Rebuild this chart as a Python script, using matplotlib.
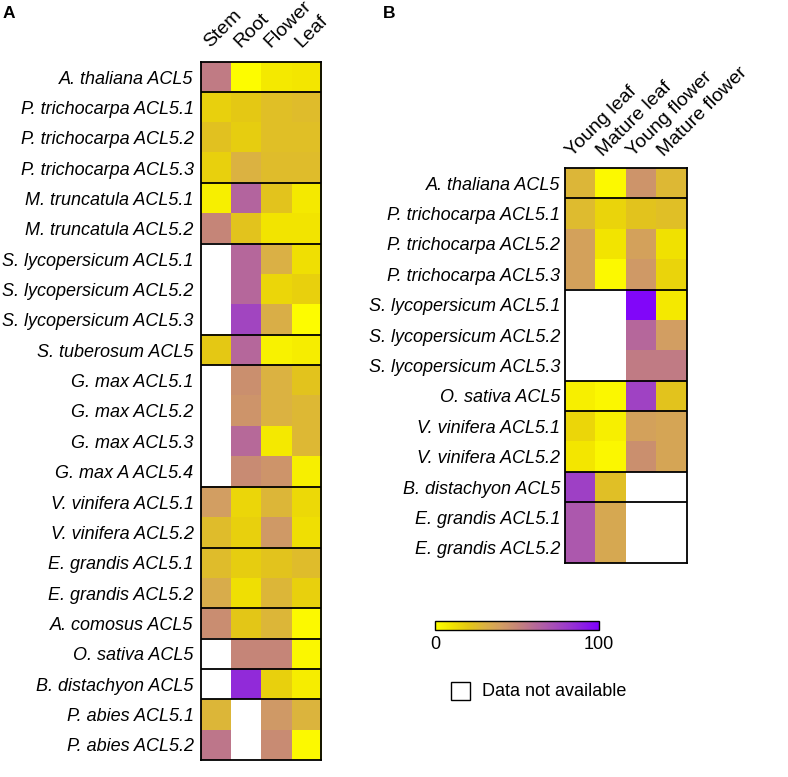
import numpy as np
import matplotlib
matplotlib.use("Agg")
import matplotlib.pyplot as plt
from matplotlib.colors import LinearSegmentedColormap, Normalize
from matplotlib.transforms import offset_copy
from matplotlib.patches import Rectangle
import matplotlib.colorbar as mcolorbar

plt.rcParams['font.family'] = ['Liberation Sans', 'DejaVu Sans']

nan = np.nan

# ---------------- Panel A data ----------------
tissues_a = ["Stem", "Root", "Flower", "Leaf"]
genes_a = [
    "A. thaliana ACL5",
    "P. trichocarpa ACL5.1", "P. trichocarpa ACL5.2", "P. trichocarpa ACL5.3",
    "M. truncatula ACL5.1", "M. truncatula ACL5.2",
    "S. lycopersicum ACL5.1", "S. lycopersicum ACL5.2", "S. lycopersicum ACL5.3",
    "S. tuberosum ACL5",
    "G. max ACL5.1", "G. max ACL5.2", "G. max ACL5.3", "G. max A ACL5.4",
    "V. vinifera ACL5.1", "V. vinifera ACL5.2",
    "E. grandis ACL5.1", "E. grandis ACL5.2",
    "A. comosus ACL5",
    "O. sativa ACL5",
    "B. distachyon ACL5",
    "P. abies ACL5.1", "P. abies ACL5.2",
]
groups_a = [1, 3, 2, 3, 1, 4, 2, 2, 1, 1, 1, 2]
stem_a   = [54, 17, 23, 17, 6, 50, nan, nan, nan, 20, nan, nan, nan, nan, 40, 25, 25, 33, 47, nan, nan, 28, 56]
root_a   = [1, 20, 18, 30, 63, 22, 62, 62, 76, 62, 46, 44, 61, 48, 15, 17, 18, 12, 21, 50, 86, nan, nan]
flower_a = [8, 24, 24, 25, 22, 10, 31, 15, 32, 5, 30, 30, 8, 44, 28, 42, 22, 28, 28, 50, 17, 42, 48]
leaf_a   = [9, 25, 24, 25, 8, 10, 12, 17, 1, 7, 22, 27, 27, 6, 14, 12, 25, 17, 2, 3, 7, 29, 2]

# ---------------- Panel B data ----------------
tissues_b = ["Young leaf", "Mature leaf", "Young flower", "Mature flower"]
genes_b = [
    "A. thaliana ACL5",
    "P. trichocarpa ACL5.1", "P. trichocarpa ACL5.2", "P. trichocarpa ACL5.3",
    "S. lycopersicum ACL5.1", "S. lycopersicum ACL5.2", "S. lycopersicum ACL5.3",
    "O. sativa ACL5",
    "V. vinifera ACL5.1", "V. vinifera ACL5.2",
    "B. distachyon ACL5",
    "E. grandis ACL5.1", "E. grandis ACL5.2",
]
groups_b = [1, 3, 3, 1, 2, 1, 2]
young_leaf_b    = [28, 26, 38, 38, nan, nan, nan, 6, 15, 9, 78, 68, 68]
mature_leaf_b   = [2, 16, 10, 2, nan, nan, nan, 3, 6, 3, 24, 35, 35]
young_flower_b  = [44, 22, 38, 42, 98, 62, 54, 77, 38, 46, nan, nan, nan]
mature_flower_b = [27, 24, 11, 16, 8, 40, 54, 22, 36, 36, nan, nan, nan]

cbar_ticks = [0, 100]
legend_text = "Data not available"

# ---------------- colormap ----------------
cmap = LinearSegmentedColormap.from_list("ylpu", [
    (0.00, "#FFFF00"), (0.10, "#F2E400"), (0.20, "#E4C814"), (0.30, "#DBB242"),
    (0.40, "#D29E62"), (0.50, "#C68678"), (0.60, "#B86C96"), (0.70, "#AA54B2"),
    (0.80, "#9C3CCA"), (0.90, "#8C20E2"), (1.00, "#7F00FF")])
cmap.set_bad("white")
norm = Normalize(0, 100)

W, H = 788, 777
fig = plt.figure(figsize=(W / 100, H / 100), dpi=100)


def px_axes(left, top, right, bottom):
    return fig.add_axes([left / W, 1 - bottom / H, (right - left) / W, (bottom - top) / H])


def draw_heat(ax, cols, genes, tissues, groups, lab_dx, lab_dy, pad):
    data = np.ma.masked_invalid(np.array(cols, dtype=float).T)
    n = len(genes)
    ax.imshow(data, cmap=cmap, norm=norm, aspect="auto", interpolation="nearest")
    ax.set_xlim(-0.5, len(tissues) - 0.5)
    ax.set_ylim(n - 0.5, -0.5)
    ax.set_yticks(range(n))
    ax.set_yticklabels(genes, fontsize=13, style="italic")
    ax.set_xticks([])
    ax.tick_params(axis="y", length=0, pad=pad)
    for s in ax.spines.values():
        s.set_linewidth(1.3)
        s.set_color("black")
    b = 0
    for g in groups[:-1]:
        b += g
        ax.axhline(b - 0.5, color="black", lw=1.3)
    tr = offset_copy(ax.transData, fig=fig, x=lab_dx, y=lab_dy, units="dots")
    for j, t in enumerate(tissues):
        ax.text(j, -0.5, t, transform=tr, rotation=45, rotation_mode="anchor",
                ha="left", va="baseline", fontsize=14)


axA = px_axes(200.5, 62, 321, 760)
draw_heat(axA, [stem_a, root_a, flower_a, leaf_a], genes_a, tissues_a, groups_a, -5, 14, 5)

axB = px_axes(565, 168, 687, 563)
draw_heat(axB, [young_leaf_b, mature_leaf_b, young_flower_b, mature_flower_b],
          genes_b, tissues_b, groups_b, -8, 11, 3.5)

fig.text(3 / W, 1 - 18 / H, "A", fontsize=12.5, fontweight="bold", ha="left", va="baseline")
fig.text(383 / W, 1 - 18 / H, "B", fontsize=12.5, fontweight="bold", ha="left", va="baseline")

# colorbar
cax = px_axes(435.3, 620.7, 599, 630)
cb = mcolorbar.ColorbarBase(cax, cmap=cmap, norm=norm, orientation="horizontal", ticks=cbar_ticks)
cb.outline.set_linewidth(1.0)
cax.tick_params(length=0, labelsize=13, pad=4)

# legend for missing data
fig.patches.append(Rectangle((451 / W, 1 - 700 / H), 19 / W, 18 / H, transform=fig.transFigure,
                             facecolor="white", edgecolor="black", lw=1.0))
fig.text(482 / W, 1 - 691 / H, legend_text, fontsize=13, ha="left", va="center")

fig.savefig("out.png", dpi=100)
